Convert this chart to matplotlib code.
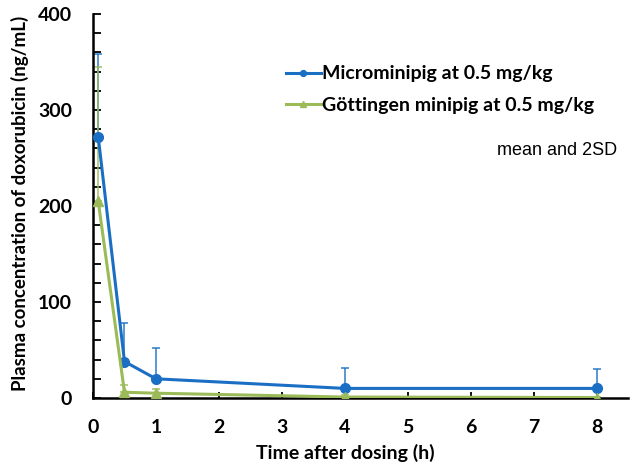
import matplotlib
matplotlib.use("Agg")
import matplotlib.pyplot as plt
import numpy as np

time_h = [0.083, 0.5, 1, 4, 8]
micro_mean = [272, 38, 20, 10, 10]
micro_2sd = [86, 40, 32, 21, 20]
gott_mean = [205, 6, 5, 1, 0.5]
gott_2sd = [140, 8, 4, 2, 1]

labels = ["Microminipig at 0.5 mg/kg", "Göttingen minipig at 0.5 mg/kg"]
blue = "#1a6fc4"
green = "#9bbb59"

plt.rcParams['font.family'] = ['Lato', 'DejaVu Sans']

fig = plt.figure(figsize=(6.32, 4.66), dpi=100)
ax = fig.add_axes([93/632, 1-398/466, (628-93)/632, (398-14)/466])

for mean, err, col, mk, ms, lab in [
        (micro_mean, micro_2sd, blue, 'o', 7, labels[0]),
        (gott_mean, gott_2sd, green, '^', 7, labels[1])]:
    ax.errorbar(time_h, mean, yerr=[np.zeros(len(err)), err], fmt='none',
                ecolor=col, elinewidth=1.2, capsize=3, capthick=1.2, alpha=0.85, zorder=2)
    ax.plot(time_h, mean, color=col, lw=2.2, marker=mk, ms=ms, label=lab, zorder=3)

ax.set_xlim(0, 8.5)
ax.set_ylim(0, 400)
ax.set_xticks(range(0, 9))
ax.set_yticks(range(0, 401, 100))
ax.set_yticks(range(0, 401, 20), minor=True)
for s in ['top', 'right']:
    ax.spines[s].set_visible(False)
for s in ['left', 'bottom']:
    ax.spines[s].set_linewidth(1.8)
ax.tick_params(axis='both', which='both', direction='in', width=1.3)
ax.tick_params(axis='y', which='major', length=6, pad=15)
ax.tick_params(axis='y', which='minor', length=6)
ax.tick_params(axis='x', which='major', length=4, pad=15)
for lbl in ax.get_xticklabels() + ax.get_yticklabels():
    lbl.set_fontweight('bold')
    lbl.set_fontsize(14)

fig.text(345/632, 1-453/466, "Time after dosing (h)", ha='center', va='center',
         fontsize=14, fontweight='bold')
fig.text(20/632, 1-203/466, "Plasma concentration of doxorubicin (ng/mL)", ha='center',
         va='center', rotation=90, fontsize=13.5, fontweight='bold')

leg = ax.legend(loc='upper left', bbox_to_anchor=((268-93)/535, 1-(48-14)/384),
                frameon=False, prop={'weight': 'bold', 'size': 14},
                handlelength=1.8, handletextpad=0.1, labelspacing=0.75, markerscale=0.6)

fig.text(617/632, 1-150/466, "mean and 2SD", ha='right', va='center', fontsize=13,
         family='Liberation Sans')

fig.savefig("out.png", dpi=100)
